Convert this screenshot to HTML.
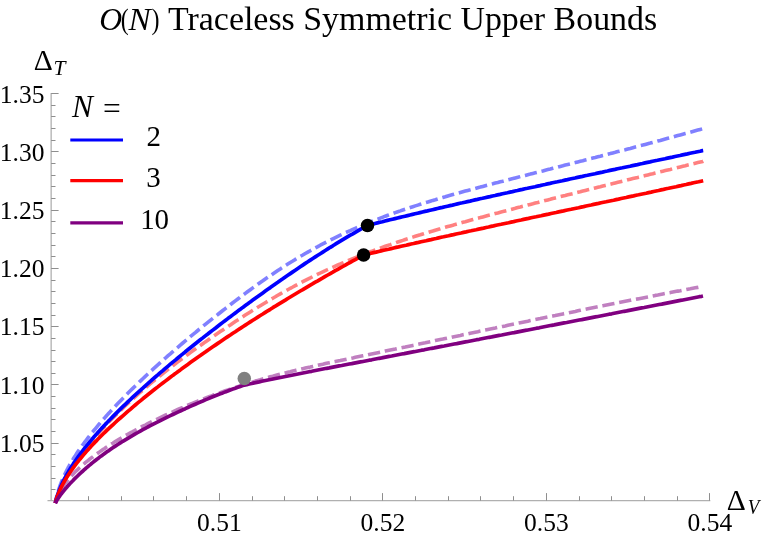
<!DOCTYPE html>
<html><head><meta charset="utf-8"><title>O(N) Traceless Symmetric Upper Bounds</title>
<style>
html,body{margin:0;padding:0;background:#fff;}
body{width:765px;height:540px;position:relative;overflow:hidden;font-family:"Liberation Serif",serif;}
svg text{font-family:"Liberation Serif",serif;fill:#000;}
</style></head><body>
<svg width="765" height="540" viewBox="0 0 765 540" style="position:absolute;left:0;top:0">
<rect width="765" height="540" fill="#fff"/>
<g stroke="#b0b0b0" stroke-width="1.3" fill="none">
<line x1="51.15" y1="93.0" x2="51.15" y2="501.0"/>
<line x1="47.5" y1="500.65" x2="710.3" y2="500.65"/>
</g>
<g stroke="#8e8e8e" stroke-width="1" fill="none">
<line x1="51.15" y1="489.5" x2="55.5" y2="489.5"/>
<line x1="51.15" y1="478.5" x2="55.5" y2="478.5"/>
<line x1="51.15" y1="466.5" x2="55.5" y2="466.5"/>
<line x1="51.15" y1="454.5" x2="55.5" y2="454.5"/>
<line x1="51.15" y1="443.5" x2="58.6" y2="443.5"/>
<line x1="51.15" y1="431.5" x2="55.5" y2="431.5"/>
<line x1="51.15" y1="419.5" x2="55.5" y2="419.5"/>
<line x1="51.15" y1="408.5" x2="55.5" y2="408.5"/>
<line x1="51.15" y1="396.5" x2="55.5" y2="396.5"/>
<line x1="51.15" y1="384.5" x2="58.6" y2="384.5"/>
<line x1="51.15" y1="373.5" x2="55.5" y2="373.5"/>
<line x1="51.15" y1="361.5" x2="55.5" y2="361.5"/>
<line x1="51.15" y1="350.5" x2="55.5" y2="350.5"/>
<line x1="51.15" y1="338.5" x2="55.5" y2="338.5"/>
<line x1="51.15" y1="326.5" x2="58.6" y2="326.5"/>
<line x1="51.15" y1="315.5" x2="55.5" y2="315.5"/>
<line x1="51.15" y1="303.5" x2="55.5" y2="303.5"/>
<line x1="51.15" y1="291.5" x2="55.5" y2="291.5"/>
<line x1="51.15" y1="280.5" x2="55.5" y2="280.5"/>
<line x1="51.15" y1="268.5" x2="58.6" y2="268.5"/>
<line x1="51.15" y1="256.5" x2="55.5" y2="256.5"/>
<line x1="51.15" y1="245.5" x2="55.5" y2="245.5"/>
<line x1="51.15" y1="233.5" x2="55.5" y2="233.5"/>
<line x1="51.15" y1="221.5" x2="55.5" y2="221.5"/>
<line x1="51.15" y1="210.5" x2="58.6" y2="210.5"/>
<line x1="51.15" y1="198.5" x2="55.5" y2="198.5"/>
<line x1="51.15" y1="186.5" x2="55.5" y2="186.5"/>
<line x1="51.15" y1="175.5" x2="55.5" y2="175.5"/>
<line x1="51.15" y1="163.5" x2="55.5" y2="163.5"/>
<line x1="51.15" y1="151.5" x2="58.6" y2="151.5"/>
<line x1="51.15" y1="140.5" x2="55.5" y2="140.5"/>
<line x1="51.15" y1="128.5" x2="55.5" y2="128.5"/>
<line x1="51.15" y1="116.5" x2="55.5" y2="116.5"/>
<line x1="51.15" y1="105.5" x2="55.5" y2="105.5"/>
<line x1="51.15" y1="93.5" x2="58.6" y2="93.5"/>
<line x1="88.5" y1="500.65" x2="88.5" y2="496.2"/>
<line x1="121.5" y1="500.65" x2="121.5" y2="496.2"/>
<line x1="153.5" y1="500.65" x2="153.5" y2="496.2"/>
<line x1="186.5" y1="500.65" x2="186.5" y2="496.2"/>
<line x1="219.5" y1="500.65" x2="219.5" y2="493.1"/>
<line x1="252.5" y1="500.65" x2="252.5" y2="496.2"/>
<line x1="284.5" y1="500.65" x2="284.5" y2="496.2"/>
<line x1="317.5" y1="500.65" x2="317.5" y2="496.2"/>
<line x1="350.5" y1="500.65" x2="350.5" y2="496.2"/>
<line x1="382.5" y1="500.65" x2="382.5" y2="493.1"/>
<line x1="415.5" y1="500.65" x2="415.5" y2="496.2"/>
<line x1="448.5" y1="500.65" x2="448.5" y2="496.2"/>
<line x1="480.5" y1="500.65" x2="480.5" y2="496.2"/>
<line x1="513.5" y1="500.65" x2="513.5" y2="496.2"/>
<line x1="546.5" y1="500.65" x2="546.5" y2="493.1"/>
<line x1="579.5" y1="500.65" x2="579.5" y2="496.2"/>
<line x1="611.5" y1="500.65" x2="611.5" y2="496.2"/>
<line x1="644.5" y1="500.65" x2="644.5" y2="496.2"/>
<line x1="677.5" y1="500.65" x2="677.5" y2="496.2"/>
<line x1="709.5" y1="500.65" x2="709.5" y2="493.1"/>
</g>
<path d="M55.3,503.1L55.8,500.5L56.3,498.2L56.8,496.1L57.3,494.2L57.8,492.5L58.3,490.8L58.8,489.2L59.3,487.7L59.8,486.3L60.3,484.9L60.8,483.6L61.3,482.3L61.8,481.1L62.3,479.9L62.8,478.7L63.3,477.6L63.8,476.5L64.3,475.4L64.8,474.3L65.3,473.3L65.8,472.3L66.3,471.3L66.8,470.3L67.3,469.3L67.8,468.4L68.3,467.4L68.8,466.5L69.3,465.6L69.8,464.7L70.3,463.9L71.3,462.1L72.3,460.5L73.3,458.8L74.3,457.2L75.3,455.7L76.3,454.1L77.3,452.6L78.3,451.1L79.3,449.7L80.3,448.2L81.3,446.8L82.3,445.4L83.3,444.1L84.3,442.7L85.3,441.4L86.3,440.1L87.3,438.7L88.3,437.5L89.3,436.2L90.3,434.9L91.3,433.7L92.3,432.4L93.3,431.2L94.3,430.0L95.3,428.8L96.3,427.6L97.3,426.4L98.3,425.2L99.3,424.0L100.3,422.8L101.3,421.7L102.3,420.5L103.3,419.4L104.3,418.3L105.3,417.1L106.3,416.0L107.3,414.9L108.3,413.8L109.3,412.7L110.3,411.6L112.8,408.9L115.3,406.2L117.8,403.6L120.3,401.0L122.8,398.4L125.3,395.9L127.8,393.3L130.3,390.8L132.8,388.4L135.3,385.9L137.8,383.5L140.3,381.1L142.8,378.7L145.3,376.4L147.8,374.0L150.3,371.7L152.8,369.4L155.3,367.1L157.8,364.9L160.3,362.6L162.8,360.4L165.3,358.2L167.8,355.9L170.3,353.8L172.8,351.6L175.3,349.4L177.8,347.3L180.3,345.1L182.8,343.0L185.3,340.9L187.8,338.8L190.3,336.7L192.8,334.6L195.3,332.6L197.8,330.5L200.3,328.5L202.8,326.4L205.3,324.4L207.8,322.4L210.3,320.4L212.8,318.4L215.3,316.4L217.8,314.5L220.3,312.5L222.8,310.5L225.3,308.6L227.8,306.7L230.3,304.7L232.8,302.8L235.3,300.9L237.8,299.0L240.3,297.1L242.8,295.3L245.3,293.4L247.8,291.5L250.3,289.7L252.8,287.9L255.3,286.1L257.8,284.3L260.3,282.5L262.8,280.8L265.3,279.0L267.8,277.3L270.3,275.6L272.8,273.9L275.3,272.2L277.8,270.5L280.3,268.9L282.8,267.3L285.3,265.7L287.8,264.1L290.3,262.5L292.8,261.0L295.3,259.4L297.8,257.9L300.3,256.4L302.8,255.0L305.3,253.5L307.8,252.1L310.3,250.7L312.8,249.3L315.3,247.9L317.8,246.6L320.3,245.2L322.8,243.9L325.3,242.6L327.8,241.3L330.3,240.1L332.8,238.8L335.3,237.6L337.8,236.4L340.3,235.2L342.8,234.0L345.3,232.8L347.8,231.7L350.3,230.6L352.8,229.4L355.3,228.3L357.8,227.3L360.3,226.2L362.8,225.1L365.3,224.1L367.8,223.1L370.3,222.0L372.8,221.0L375.3,220.0L377.8,219.1L380.3,218.1L382.8,217.2L385.3,216.2L387.8,215.3L390.3,214.4L392.8,213.5L395.3,212.6L397.8,211.7L400.3,210.9L402.8,210.0L405.3,209.2L407.8,208.3L410.3,207.5L412.8,206.7L415.3,205.9L417.8,205.1L420.3,204.3L422.8,203.5L425.3,202.7L427.8,202.0L430.3,201.2L432.8,200.4L435.3,199.7L437.8,198.9L440.3,198.2L442.8,197.5L445.3,196.8L447.8,196.0L450.3,195.3L452.8,194.6L455.3,193.9L457.8,193.2L460.3,192.5L462.8,191.8L465.3,191.1L467.8,190.4L470.3,189.8L472.8,189.1L475.3,188.4L477.8,187.7L480.3,187.1L482.8,186.4L485.3,185.7L487.8,185.1L490.3,184.4L492.8,183.8L495.3,183.1L497.8,182.5L500.3,181.8L502.8,181.2L505.3,180.5L507.8,179.9L510.3,179.2L512.8,178.6L515.3,177.9L517.8,177.3L520.3,176.6L522.8,176.0L525.3,175.4L527.8,174.7L530.3,174.1L532.8,173.4L535.3,172.8L537.8,172.2L540.3,171.5L542.8,170.9L545.3,170.2L547.8,169.6L550.3,169.0L552.8,168.3L555.3,167.7L557.8,167.1L560.3,166.4L562.8,165.8L565.3,165.1L567.8,164.5L570.3,163.9L572.8,163.2L575.3,162.6L577.8,161.9L580.3,161.3L582.8,160.7L585.3,160.0L587.8,159.4L590.3,158.7L592.8,158.1L595.3,157.5L597.8,156.8L600.3,156.2L602.8,155.5L605.3,154.9L607.8,154.2L610.3,153.6L612.8,152.9L615.3,152.3L617.8,151.6L620.3,151.0L622.8,150.3L625.3,149.7L627.8,149.0L630.3,148.4L632.8,147.7L635.3,147.0L637.8,146.4L640.3,145.7L642.8,145.1L645.3,144.4L647.8,143.7L650.3,143.1L652.8,142.4L655.3,141.7L657.8,141.0L660.3,140.4L662.8,139.7L665.3,139.0L667.8,138.3L670.3,137.7L672.8,137.0L675.3,136.3L677.8,135.6L680.3,134.9L682.8,134.2L685.3,133.5L687.8,132.9L690.3,132.2L692.8,131.5L695.3,130.8L697.8,130.1L700.3,129.4L702.8,128.7L703.0,128.6" fill="none" stroke="#8080ff" stroke-width="3.6" stroke-dasharray="12.3 4.8" stroke-dashoffset="4.66" stroke-linejoin="round"/>
<path d="M55.3,503.1L55.8,501.3L56.3,499.6L56.8,498.1L57.3,496.7L57.8,495.4L58.3,494.1L58.8,492.9L59.3,491.7L59.8,490.6L60.3,489.5L60.8,488.4L61.3,487.4L61.8,486.4L62.3,485.4L62.8,484.4L63.3,483.4L63.8,482.5L64.3,481.6L64.8,480.7L65.3,479.8L65.8,478.9L66.3,478.0L66.8,477.1L67.3,476.3L67.8,475.4L68.3,474.6L68.8,473.8L69.3,473.0L69.8,472.2L70.3,471.3L71.3,469.8L72.3,468.2L73.3,466.6L74.3,465.1L75.3,463.6L76.3,462.2L77.3,460.7L78.3,459.3L79.3,457.8L80.3,456.4L81.3,455.0L82.3,453.7L83.3,452.3L84.3,451.0L85.3,449.7L86.3,448.4L87.3,447.1L88.3,445.8L89.3,444.5L90.3,443.3L91.3,442.0L92.3,440.8L93.3,439.6L94.3,438.4L95.3,437.2L96.3,436.0L97.3,434.8L98.3,433.7L99.3,432.5L100.3,431.4L101.3,430.3L102.3,429.2L103.3,428.1L104.3,427.0L105.3,425.9L106.3,424.8L107.3,423.7L108.3,422.7L109.3,421.6L110.3,420.6L112.8,418.0L115.3,415.5L117.8,413.0L120.3,410.6L122.8,408.2L125.3,405.8L127.8,403.4L130.3,401.1L132.8,398.9L135.3,396.6L137.8,394.4L140.3,392.2L142.8,390.1L145.3,387.9L147.8,385.8L150.3,383.7L152.8,381.6L155.3,379.6L157.8,377.6L160.3,375.5L162.8,373.5L165.3,371.6L167.8,369.6L170.3,367.7L172.8,365.7L175.3,363.8L177.8,361.9L180.3,360.0L182.8,358.2L185.3,356.3L187.8,354.5L190.3,352.6L192.8,350.8L195.3,349.0L197.8,347.2L200.3,345.5L202.8,343.7L205.3,341.9L207.8,340.2L210.3,338.4L212.8,336.7L215.3,335.0L217.8,333.3L220.3,331.6L222.8,329.9L225.3,328.2L227.8,326.5L230.3,324.9L232.8,323.2L235.3,321.5L237.8,319.9L240.3,318.3L242.8,316.7L245.3,315.1L247.8,313.5L250.3,311.9L252.8,310.3L255.3,308.8L257.8,307.2L260.3,305.7L262.8,304.2L265.3,302.7L267.8,301.2L270.3,299.7L272.8,298.2L275.3,296.8L277.8,295.3L280.3,293.9L282.8,292.5L285.3,291.1L287.8,289.7L290.3,288.3L292.8,287.0L295.3,285.6L297.8,284.3L300.3,283.0L302.8,281.7L305.3,280.4L307.8,279.1L310.3,277.9L312.8,276.6L315.3,275.4L317.8,274.2L320.3,273.0L322.8,271.8L325.3,270.7L327.8,269.5L330.3,268.4L332.8,267.3L335.3,266.1L337.8,265.0L340.3,264.0L342.8,262.9L345.3,261.8L347.8,260.8L350.3,259.7L352.8,258.7L355.3,257.7L357.8,256.7L360.3,255.7L362.8,254.7L365.3,253.7L367.8,252.8L370.3,251.8L372.8,250.9L375.3,249.9L377.8,249.0L380.3,248.1L382.8,247.2L385.3,246.3L387.8,245.4L390.3,244.6L392.8,243.7L395.3,242.9L397.8,242.0L400.3,241.2L402.8,240.4L405.3,239.5L407.8,238.7L410.3,237.9L412.8,237.1L415.3,236.3L417.8,235.5L420.3,234.8L422.8,234.0L425.3,233.2L427.8,232.5L430.3,231.7L432.8,231.0L435.3,230.2L437.8,229.5L440.3,228.8L442.8,228.0L445.3,227.3L447.8,226.6L450.3,225.9L452.8,225.2L455.3,224.4L457.8,223.7L460.3,223.0L462.8,222.3L465.3,221.7L467.8,221.0L470.3,220.3L472.8,219.6L475.3,218.9L477.8,218.2L480.3,217.6L482.8,216.9L485.3,216.2L487.8,215.5L490.3,214.9L492.8,214.2L495.3,213.5L497.8,212.9L500.3,212.2L502.8,211.6L505.3,210.9L507.8,210.3L510.3,209.6L512.8,208.9L515.3,208.3L517.8,207.6L520.3,207.0L522.8,206.3L525.3,205.7L527.8,205.0L530.3,204.4L532.8,203.8L535.3,203.1L537.8,202.5L540.3,201.8L542.8,201.2L545.3,200.5L547.8,199.9L550.3,199.3L552.8,198.6L555.3,198.0L557.8,197.4L560.3,196.7L562.8,196.1L565.3,195.5L567.8,194.8L570.3,194.2L572.8,193.6L575.3,192.9L577.8,192.3L580.3,191.7L582.8,191.0L585.3,190.4L587.8,189.8L590.3,189.2L592.8,188.5L595.3,187.9L597.8,187.3L600.3,186.7L602.8,186.0L605.3,185.4L607.8,184.8L610.3,184.2L612.8,183.6L615.3,182.9L617.8,182.3L620.3,181.7L622.8,181.1L625.3,180.5L627.8,179.8L630.3,179.2L632.8,178.6L635.3,178.0L637.8,177.4L640.3,176.7L642.8,176.1L645.3,175.5L647.8,174.9L650.3,174.3L652.8,173.7L655.3,173.0L657.8,172.4L660.3,171.8L662.8,171.2L665.3,170.6L667.8,170.0L670.3,169.4L672.8,168.7L675.3,168.1L677.8,167.5L680.3,166.9L682.8,166.3L685.3,165.7L687.8,165.0L690.3,164.4L692.8,163.8L695.3,163.2L697.8,162.6L700.3,162.0L702.8,161.4L703.2,161.2" fill="none" stroke="#ff8080" stroke-width="3.6" stroke-dasharray="12.3 4.8" stroke-dashoffset="5.17" stroke-linejoin="round"/>
<path d="M55.3,503.1L55.8,501.4L56.3,499.9L56.8,498.5L57.3,497.2L57.8,496.1L58.3,495.0L58.8,493.9L59.3,492.9L59.8,492.0L60.3,491.0L60.8,490.2L61.3,489.3L61.8,488.5L62.3,487.7L62.8,486.9L63.3,486.2L63.8,485.4L64.3,484.7L64.8,484.0L65.3,483.3L65.8,482.7L66.3,482.0L66.8,481.4L67.3,480.7L67.8,480.1L68.3,479.5L68.8,478.9L69.3,478.3L69.8,477.7L70.3,477.2L71.3,476.0L72.3,474.9L73.3,473.9L74.3,472.8L75.3,471.8L76.3,470.8L77.3,469.9L78.3,468.9L79.3,468.0L80.3,467.1L81.3,466.2L82.3,465.3L83.3,464.4L84.3,463.6L85.3,462.7L86.3,461.9L87.3,461.1L88.3,460.3L89.3,459.5L90.3,458.7L91.3,457.9L92.3,457.2L93.3,456.4L94.3,455.7L95.3,454.9L96.3,454.2L97.3,453.5L98.3,452.8L99.3,452.1L100.3,451.4L101.3,450.7L102.3,450.0L103.3,449.3L104.3,448.7L105.3,448.0L106.3,447.3L107.3,446.7L108.3,446.0L109.3,445.4L110.3,444.7L112.8,443.2L115.3,441.6L117.8,440.1L120.3,438.6L122.8,437.2L125.3,435.7L127.8,434.3L130.3,432.9L132.8,431.6L135.3,430.2L137.8,428.9L140.3,427.5L142.8,426.2L145.3,425.0L147.8,423.7L150.3,422.4L152.8,421.2L155.3,420.0L157.8,418.8L160.3,417.6L162.8,416.4L165.3,415.2L167.8,414.0L170.3,412.9L172.8,411.8L175.3,410.6L177.8,409.5L180.3,408.4L182.8,407.4L185.3,406.3L187.8,405.2L190.3,404.2L192.8,403.2L195.3,402.1L197.8,401.1L200.3,400.1L202.8,399.2L205.3,398.2L207.8,397.2L210.3,396.3L212.8,395.3L215.3,394.4L217.8,393.5L220.3,392.6L222.8,391.7L225.3,390.8L227.8,390.0L230.3,389.1L232.8,388.3L235.3,387.4L237.8,386.6L240.3,385.8L242.8,385.0L245.3,384.2L247.8,383.4L250.3,382.6L252.8,381.9L255.3,381.1L257.8,380.4L260.3,379.7L262.8,378.9L265.3,378.2L267.8,377.5L270.3,376.8L272.8,376.2L275.3,375.5L277.8,374.8L280.3,374.2L282.8,373.5L285.3,372.9L287.8,372.3L290.3,371.7L292.8,371.0L295.3,370.4L297.8,369.8L300.3,369.3L302.8,368.7L305.3,368.1L307.8,367.5L310.3,367.0L312.8,366.4L315.3,365.8L317.8,365.3L320.3,364.7L322.8,364.2L325.3,363.6L327.8,363.1L330.3,362.6L332.8,362.0L335.3,361.5L337.8,361.0L340.3,360.5L342.8,359.9L345.3,359.4L347.8,358.9L350.3,358.4L352.8,357.9L355.3,357.3L357.8,356.8L360.3,356.3L362.8,355.8L365.3,355.3L367.8,354.8L370.3,354.2L372.8,353.7L375.3,353.2L377.8,352.7L380.3,352.2L382.8,351.7L385.3,351.1L387.8,350.6L390.3,350.1L392.8,349.6L395.3,349.1L397.8,348.5L400.3,348.0L402.8,347.5L405.3,347.0L407.8,346.4L410.3,345.9L412.8,345.4L415.3,344.9L417.8,344.3L420.3,343.8L422.8,343.3L425.3,342.8L427.8,342.2L430.3,341.7L432.8,341.2L435.3,340.6L437.8,340.1L440.3,339.6L442.8,339.1L445.3,338.5L447.8,338.0L450.3,337.5L452.8,336.9L455.3,336.4L457.8,335.9L460.3,335.4L462.8,334.8L465.3,334.3L467.8,333.8L470.3,333.2L472.8,332.7L475.3,332.2L477.8,331.7L480.3,331.1L482.8,330.6L485.3,330.1L487.8,329.5L490.3,329.0L492.8,328.5L495.3,328.0L497.8,327.4L500.3,326.9L502.8,326.4L505.3,325.9L507.8,325.3L510.3,324.8L512.8,324.3L515.3,323.8L517.8,323.2L520.3,322.7L522.8,322.2L525.3,321.7L527.8,321.2L530.3,320.6L532.8,320.1L535.3,319.6L537.8,319.1L540.3,318.6L542.8,318.0L545.3,317.5L547.8,317.0L550.3,316.5L552.8,316.0L555.3,315.5L557.8,314.9L560.3,314.4L562.8,313.9L565.3,313.4L567.8,312.9L570.3,312.4L572.8,311.9L575.3,311.4L577.8,310.8L580.3,310.3L582.8,309.8L585.3,309.3L587.8,308.8L590.3,308.3L592.8,307.8L595.3,307.3L597.8,306.8L600.3,306.3L602.8,305.8L605.3,305.3L607.8,304.8L610.3,304.3L612.8,303.8L615.3,303.3L617.8,302.8L620.3,302.3L622.8,301.8L625.3,301.3L627.8,300.8L630.3,300.3L632.8,299.8L635.3,299.3L637.8,298.9L640.3,298.4L642.8,297.9L645.3,297.4L647.8,296.9L650.3,296.4L652.8,295.9L655.3,295.4L657.8,295.0L660.3,294.5L662.8,294.0L665.3,293.5L667.8,293.0L670.3,292.6L672.8,292.1L675.3,291.6L677.8,291.1L680.3,290.7L682.8,290.2L685.3,289.7L687.8,289.2L690.3,288.8L692.8,288.3L695.3,287.8L697.8,287.4L700.3,286.9L702.8,286.4L703.0,286.4" fill="none" stroke="#c080c0" stroke-width="3.6" stroke-dasharray="12.3 4.8" stroke-dashoffset="2.53" stroke-linejoin="round"/>
<path d="M55.3,503.1L55.8,501.0L56.3,499.0L56.8,497.3L57.3,495.7L57.8,494.2L58.3,492.8L58.8,491.4L59.3,490.1L59.8,488.9L60.3,487.7L60.8,486.5L61.3,485.4L61.8,484.3L62.3,483.2L62.8,482.2L63.3,481.2L63.8,480.2L64.3,479.2L64.8,478.2L65.3,477.3L65.8,476.4L66.3,475.5L66.8,474.6L67.3,473.7L67.8,472.8L68.3,472.0L68.8,471.1L69.3,470.3L69.8,469.4L70.3,468.6L71.3,467.0L72.3,465.5L73.3,463.9L74.3,462.4L75.3,461.0L76.3,459.5L77.3,458.1L78.3,456.7L79.3,455.3L80.3,453.9L81.3,452.6L82.3,451.3L83.3,450.0L84.3,448.7L85.3,447.4L86.3,446.2L87.3,444.9L88.3,443.7L89.3,442.5L90.3,441.3L91.3,440.1L92.3,438.9L93.3,437.7L94.3,436.6L95.3,435.4L96.3,434.3L97.3,433.2L98.3,432.0L99.3,430.9L100.3,429.8L101.3,428.7L102.3,427.6L103.3,426.6L104.3,425.5L105.3,424.4L106.3,423.4L107.3,422.3L108.3,421.3L109.3,420.2L110.3,419.2L112.8,416.6L115.3,414.1L117.8,411.6L120.3,409.1L122.8,406.7L125.3,404.3L127.8,401.9L130.3,399.6L132.8,397.2L135.3,394.9L137.8,392.6L140.3,390.3L142.8,388.1L145.3,385.8L147.8,383.6L150.3,381.4L152.8,379.2L155.3,377.0L157.8,374.9L160.3,372.7L162.8,370.6L165.3,368.4L167.8,366.3L170.3,364.2L172.8,362.1L175.3,360.1L177.8,358.0L180.3,355.9L182.8,353.9L185.3,351.8L187.8,349.8L190.3,347.8L192.8,345.8L195.3,343.8L197.8,341.8L200.3,339.8L202.8,337.9L205.3,335.9L207.8,334.0L210.3,332.0L212.8,330.1L215.3,328.2L217.8,326.2L220.3,324.3L222.8,322.4L225.3,320.5L227.8,318.6L230.3,316.8L232.8,314.9L235.3,313.0L237.8,311.1L240.3,309.3L242.8,307.4L245.3,305.6L247.8,303.8L250.3,301.9L252.8,300.1L255.3,298.3L257.8,296.5L260.3,294.7L262.8,292.9L265.3,291.1L267.8,289.3L270.3,287.6L272.8,285.8L275.3,284.0L277.8,282.3L280.3,280.5L282.8,278.8L285.3,277.0L287.8,275.3L290.3,273.6L292.8,271.9L295.3,270.2L297.8,268.5L300.3,266.8L302.8,265.1L305.3,263.4L307.8,261.8L310.3,260.1L312.8,258.5L315.3,256.9L317.8,255.3L320.3,253.7L322.8,252.1L325.3,250.5L327.8,248.9L330.3,247.3L332.8,245.8L335.3,244.2L337.8,242.7L340.3,241.2L342.8,239.7L345.3,238.2L347.8,236.7L350.3,235.2L352.8,233.8L355.3,232.3L357.8,230.9L360.3,229.4L362.8,228.0L365.3,226.6L367.5,225.4L370.0,224.8L372.5,224.1L375.0,223.5L377.5,222.9L380.0,222.3L382.5,221.7L385.0,221.0L387.5,220.4L390.0,219.8L392.5,219.2L395.0,218.6L397.5,218.0L400.0,217.4L402.5,216.8L405.0,216.2L407.5,215.6L410.0,215.0L412.5,214.4L415.0,213.8L417.5,213.2L420.0,212.6L422.5,212.0L425.0,211.4L427.5,210.9L430.0,210.3L432.5,209.7L435.0,209.1L437.5,208.5L440.0,207.9L442.5,207.4L445.0,206.8L447.5,206.2L450.0,205.6L452.5,205.1L455.0,204.5L457.5,203.9L460.0,203.3L462.5,202.8L465.0,202.2L467.5,201.6L470.0,201.1L472.5,200.5L475.0,199.9L477.5,199.4L480.0,198.8L482.5,198.3L485.0,197.7L487.5,197.1L490.0,196.6L492.5,196.0L495.0,195.5L497.5,194.9L500.0,194.4L502.5,193.8L505.0,193.2L507.5,192.7L510.0,192.1L512.5,191.6L515.0,191.0L517.5,190.5L520.0,189.9L522.5,189.4L525.0,188.8L527.5,188.3L530.0,187.7L532.5,187.2L535.0,186.7L537.5,186.1L540.0,185.6L542.5,185.0L545.0,184.5L547.5,183.9L550.0,183.4L552.5,182.8L555.0,182.3L557.5,181.8L560.0,181.2L562.5,180.7L565.0,180.1L567.5,179.6L570.0,179.0L572.5,178.5L575.0,178.0L577.5,177.4L580.0,176.9L582.5,176.4L585.0,175.8L587.5,175.3L590.0,174.7L592.5,174.2L595.0,173.7L597.5,173.1L600.0,172.6L602.5,172.1L605.0,171.5L607.5,171.0L610.0,170.4L612.5,169.9L615.0,169.4L617.5,168.8L620.0,168.3L622.5,167.8L625.0,167.2L627.5,166.7L630.0,166.2L632.5,165.6L635.0,165.1L637.5,164.6L640.0,164.0L642.5,163.5L645.0,162.9L647.5,162.4L650.0,161.9L652.5,161.3L655.0,160.8L657.5,160.3L660.0,159.7L662.5,159.2L665.0,158.7L667.5,158.1L670.0,157.6L672.5,157.1L675.0,156.5L677.5,156.0L680.0,155.5L682.5,154.9L685.0,154.4L687.5,153.9L690.0,153.3L692.5,152.8L695.0,152.3L697.5,151.7L700.0,151.2L702.5,150.6L703.2,150.5" fill="none" stroke="#0000ff" stroke-width="3.7" stroke-linejoin="round"/>
<path d="M55.3,503.1L55.8,501.2L56.3,499.5L56.8,497.9L57.3,496.4L57.8,495.1L58.3,493.8L58.8,492.6L59.3,491.4L59.8,490.3L60.3,489.2L60.8,488.1L61.3,487.1L61.8,486.1L62.3,485.1L62.8,484.2L63.3,483.3L63.8,482.4L64.3,481.5L64.8,480.6L65.3,479.8L65.8,478.9L66.3,478.1L66.8,477.3L67.3,476.5L67.8,475.7L68.3,475.0L68.8,474.2L69.3,473.4L69.8,472.7L70.3,472.0L71.3,470.5L72.3,469.1L73.3,467.7L74.3,466.4L75.3,465.0L76.3,463.7L77.3,462.4L78.3,461.2L79.3,459.9L80.3,458.7L81.3,457.5L82.3,456.3L83.3,455.1L84.3,453.9L85.3,452.8L86.3,451.6L87.3,450.5L88.3,449.4L89.3,448.3L90.3,447.2L91.3,446.1L92.3,445.0L93.3,444.0L94.3,442.9L95.3,441.9L96.3,440.9L97.3,439.8L98.3,438.8L99.3,437.8L100.3,436.8L101.3,435.8L102.3,434.8L103.3,433.8L104.3,432.8L105.3,431.9L106.3,430.9L107.3,429.9L108.3,429.0L109.3,428.0L110.3,427.1L112.8,424.8L115.3,422.5L117.8,420.2L120.3,418.0L122.8,415.8L125.3,413.6L127.8,411.4L130.3,409.3L132.8,407.1L135.3,405.0L137.8,402.9L140.3,400.9L142.8,398.8L145.3,396.8L147.8,394.8L150.3,392.8L152.8,390.8L155.3,388.8L157.8,386.9L160.3,384.9L162.8,383.0L165.3,381.1L167.8,379.2L170.3,377.3L172.8,375.4L175.3,373.6L177.8,371.7L180.3,369.9L182.8,368.0L185.3,366.2L187.8,364.4L190.3,362.6L192.8,360.8L195.3,359.0L197.8,357.2L200.3,355.5L202.8,353.7L205.3,352.0L207.8,350.2L210.3,348.5L212.8,346.8L215.3,345.1L217.8,343.4L220.3,341.7L222.8,340.0L225.3,338.3L227.8,336.6L230.3,335.0L232.8,333.3L235.3,331.7L237.8,330.0L240.3,328.4L242.8,326.7L245.3,325.1L247.8,323.5L250.3,321.9L252.8,320.3L255.3,318.7L257.8,317.1L260.3,315.5L262.8,314.0L265.3,312.4L267.8,310.8L270.3,309.3L272.8,307.7L275.3,306.2L277.8,304.6L280.3,303.1L282.8,301.6L285.3,300.1L287.8,298.5L290.3,297.0L292.8,295.5L295.3,294.0L297.8,292.5L300.3,291.0L302.8,289.6L305.3,288.1L307.8,286.6L310.3,285.1L312.8,283.7L315.3,282.2L317.8,280.8L320.3,279.3L322.8,277.9L325.3,276.4L327.8,275.0L330.3,273.6L332.8,272.2L335.3,270.7L337.8,269.3L340.3,267.9L342.8,266.5L345.3,265.1L347.8,263.7L350.3,262.3L352.8,260.9L355.3,259.6L357.8,258.2L360.3,256.8L362.8,255.4L363.6,255.0L366.1,254.4L368.6,253.8L371.1,253.2L373.6,252.6L376.1,252.1L378.6,251.5L381.1,250.9L383.6,250.3L386.1,249.7L388.6,249.2L391.1,248.6L393.6,248.0L396.1,247.4L398.6,246.9L401.1,246.3L403.6,245.7L406.1,245.2L408.6,244.6L411.1,244.0L413.6,243.5L416.1,242.9L418.6,242.4L421.1,241.8L423.6,241.2L426.1,240.7L428.6,240.1L431.1,239.6L433.6,239.0L436.1,238.5L438.6,237.9L441.1,237.3L443.6,236.8L446.1,236.2L448.6,235.7L451.1,235.1L453.6,234.6L456.1,234.0L458.6,233.5L461.1,233.0L463.6,232.4L466.1,231.9L468.6,231.3L471.1,230.8L473.6,230.2L476.1,229.7L478.6,229.1L481.1,228.6L483.6,228.1L486.1,227.5L488.6,227.0L491.1,226.4L493.6,225.9L496.1,225.3L498.6,224.8L501.1,224.3L503.6,223.7L506.1,223.2L508.6,222.7L511.1,222.1L513.6,221.6L516.1,221.0L518.6,220.5L521.1,220.0L523.6,219.4L526.1,218.9L528.6,218.4L531.1,217.8L533.6,217.3L536.1,216.8L538.6,216.2L541.1,215.7L543.6,215.1L546.1,214.6L548.6,214.1L551.1,213.5L553.6,213.0L556.1,212.5L558.6,211.9L561.1,211.4L563.6,210.9L566.1,210.3L568.6,209.8L571.1,209.3L573.6,208.7L576.1,208.2L578.6,207.7L581.1,207.1L583.6,206.6L586.1,206.0L588.6,205.5L591.1,205.0L593.6,204.4L596.1,203.9L598.6,203.4L601.1,202.8L603.6,202.3L606.1,201.8L608.6,201.2L611.1,200.7L613.6,200.2L616.1,199.6L618.6,199.1L621.1,198.5L623.6,198.0L626.1,197.5L628.6,196.9L631.1,196.4L633.6,195.9L636.1,195.3L638.6,194.8L641.1,194.2L643.6,193.7L646.1,193.2L648.6,192.6L651.1,192.1L653.6,191.5L656.1,191.0L658.6,190.5L661.1,189.9L663.6,189.4L666.1,188.8L668.6,188.3L671.1,187.7L673.6,187.2L676.1,186.7L678.6,186.1L681.1,185.6L683.6,185.0L686.1,184.5L688.6,183.9L691.1,183.4L693.6,182.8L696.1,182.3L698.6,181.8L701.1,181.2L703.2,180.7" fill="none" stroke="#ff0000" stroke-width="3.7" stroke-linejoin="round"/>
<path d="M55.3,503.1L55.8,502.1L56.3,501.3L56.8,500.4L57.3,499.6L57.8,498.8L58.3,498.1L58.8,497.3L59.3,496.6L59.8,495.9L60.3,495.2L60.8,494.5L61.3,493.9L61.8,493.2L62.3,492.6L62.8,492.0L63.3,491.3L63.8,490.7L64.3,490.1L64.8,489.5L65.3,488.9L65.8,488.3L66.3,487.7L66.8,487.2L67.3,486.6L67.8,486.0L68.3,485.5L68.8,484.9L69.3,484.4L69.8,483.8L70.3,483.3L71.3,482.2L72.3,481.2L73.3,480.2L74.3,479.1L75.3,478.1L76.3,477.2L77.3,476.2L78.3,475.2L79.3,474.3L80.3,473.3L81.3,472.4L82.3,471.5L83.3,470.6L84.3,469.7L85.3,468.8L86.3,467.9L87.3,467.1L88.3,466.2L89.3,465.4L90.3,464.6L91.3,463.7L92.3,462.9L93.3,462.1L94.3,461.3L95.3,460.5L96.3,459.7L97.3,458.9L98.3,458.2L99.3,457.4L100.3,456.6L101.3,455.9L102.3,455.2L103.3,454.4L104.3,453.7L105.3,453.0L106.3,452.3L107.3,451.6L108.3,450.9L109.3,450.2L110.3,449.5L112.8,447.8L115.3,446.1L117.8,444.5L120.3,442.9L122.8,441.3L125.3,439.8L127.8,438.3L130.3,436.8L132.8,435.4L135.3,433.9L137.8,432.5L140.3,431.1L142.8,429.7L145.3,428.4L147.8,427.0L150.3,425.7L152.8,424.4L155.3,423.1L157.8,421.9L160.3,420.6L162.8,419.3L165.3,418.1L167.8,416.9L170.3,415.7L172.8,414.5L175.3,413.3L177.8,412.1L180.3,411.0L182.8,409.8L185.3,408.7L187.8,407.5L190.3,406.4L192.8,405.3L195.3,404.2L197.8,403.1L200.3,402.0L202.8,401.0L205.3,399.9L207.8,398.9L210.3,397.8L212.8,396.8L215.3,395.8L217.8,394.8L220.3,393.8L222.8,392.9L225.3,391.9L227.8,391.0L230.3,390.0L232.8,389.1L235.3,388.2L237.8,387.3L240.3,386.4L242.8,385.6L244.2,385.1L246.7,384.6L249.2,384.0L251.7,383.5L254.2,382.9L256.7,382.4L259.2,381.9L261.7,381.3L264.2,380.8L266.7,380.3L269.2,379.8L271.7,379.3L274.2,378.7L276.7,378.2L279.2,377.7L281.7,377.2L284.2,376.7L286.7,376.2L289.2,375.7L291.7,375.2L294.2,374.7L296.7,374.2L299.2,373.7L301.7,373.2L304.2,372.7L306.7,372.2L309.2,371.7L311.7,371.3L314.2,370.8L316.7,370.3L319.2,369.8L321.7,369.3L324.2,368.8L326.7,368.3L329.2,367.9L331.7,367.4L334.2,366.9L336.7,366.4L339.2,365.9L341.7,365.5L344.2,365.0L346.7,364.5L349.2,364.0L351.7,363.6L354.2,363.1L356.7,362.6L359.2,362.1L361.7,361.7L364.2,361.2L366.7,360.7L369.2,360.2L371.7,359.8L374.2,359.3L376.7,358.8L379.2,358.3L381.7,357.9L384.2,357.4L386.7,356.9L389.2,356.4L391.7,356.0L394.2,355.5L396.7,355.0L399.2,354.5L401.7,354.0L404.2,353.6L406.7,353.1L409.2,352.6L411.7,352.1L414.2,351.7L416.7,351.2L419.2,350.7L421.7,350.2L424.2,349.8L426.7,349.3L429.2,348.8L431.7,348.3L434.2,347.9L436.7,347.4L439.2,346.9L441.7,346.4L444.2,346.0L446.7,345.5L449.2,345.0L451.7,344.5L454.2,344.0L456.7,343.6L459.2,343.1L461.7,342.6L464.2,342.1L466.7,341.7L469.2,341.2L471.7,340.7L474.2,340.2L476.7,339.7L479.2,339.3L481.7,338.8L484.2,338.3L486.7,337.8L489.2,337.3L491.7,336.9L494.2,336.4L496.7,335.9L499.2,335.4L501.7,335.0L504.2,334.5L506.7,334.0L509.2,333.5L511.7,333.0L514.2,332.6L516.7,332.1L519.2,331.6L521.7,331.1L524.2,330.6L526.7,330.2L529.2,329.7L531.7,329.2L534.2,328.7L536.7,328.2L539.2,327.8L541.7,327.3L544.2,326.8L546.7,326.3L549.2,325.8L551.7,325.3L554.2,324.9L556.7,324.4L559.2,323.9L561.7,323.4L564.2,322.9L566.7,322.5L569.2,322.0L571.7,321.5L574.2,321.0L576.7,320.5L579.2,320.0L581.7,319.6L584.2,319.1L586.7,318.6L589.2,318.1L591.7,317.6L594.2,317.1L596.7,316.7L599.2,316.2L601.7,315.7L604.2,315.2L606.7,314.7L609.2,314.2L611.7,313.8L614.2,313.3L616.7,312.8L619.2,312.3L621.7,311.8L624.2,311.3L626.7,310.9L629.2,310.4L631.7,309.9L634.2,309.4L636.7,308.9L639.2,308.4L641.7,307.9L644.2,307.5L646.7,307.0L649.2,306.5L651.7,306.0L654.2,305.5L656.7,305.0L659.2,304.5L661.7,304.1L664.2,303.6L666.7,303.1L669.2,302.6L671.7,302.1L674.2,301.6L676.7,301.1L679.2,300.6L681.7,300.2L684.2,299.7L686.7,299.2L689.2,298.7L691.7,298.2L694.2,297.7L696.7,297.2L699.2,296.7L701.7,296.3L703.0,296.0" fill="none" stroke="#800080" stroke-width="3.7" stroke-linejoin="round"/>
<circle cx="367.5" cy="225.4" r="6.75" fill="#000"/>
<circle cx="363.6" cy="255" r="6.75" fill="#000"/>
<circle cx="244.3" cy="378.4" r="6.75" fill="#808080"/>
<line x1="70.3" x2="123" y1="140" y2="140" stroke="#0000ff" stroke-width="3.2"/>
<line x1="70.3" x2="123" y1="180.6" y2="180.6" stroke="#ff0000" stroke-width="3.2"/>
<line x1="70.3" x2="123" y1="222.8" y2="222.8" stroke="#800080" stroke-width="3.2"/>
<g style="filter:opacity(1)">
<text x="99.3" y="29.8" text-anchor="start" style="font-size:31.7px;font-style:italic;">O</text>
<text transform="translate(120.8,28.7) scale(0.8,1)" text-anchor="start" style="font-size:30px;">(</text>
<text transform="translate(128.6,29.8) scale(1.05,1)" text-anchor="start" style="font-size:31.7px;font-style:italic;">N</text>
<text transform="translate(151.4,28.7) scale(0.8,1)" text-anchor="start" style="font-size:30px;">)</text>
<text x="168.0" y="29.9" text-anchor="start" style="font-size:33.9px;">Traceless Symmetric Upper Bounds</text>
<text x="44.4" y="102.7" text-anchor="end" style="font-size:25.5px;">1.35</text>
<text x="44.4" y="160.9" text-anchor="end" style="font-size:25.5px;">1.30</text>
<text x="44.4" y="219.1" text-anchor="end" style="font-size:25.5px;">1.25</text>
<text x="44.4" y="277.2" text-anchor="end" style="font-size:25.5px;">1.20</text>
<text x="44.4" y="335.4" text-anchor="end" style="font-size:25.5px;">1.15</text>
<text x="44.4" y="393.6" text-anchor="end" style="font-size:25.5px;">1.10</text>
<text x="44.4" y="451.8" text-anchor="end" style="font-size:25.5px;">1.05</text>
<text x="197.0" y="530.5" text-anchor="start" style="font-size:25.5px;">0.51</text>
<text x="360.5" y="530.5" text-anchor="start" style="font-size:25.5px;">0.52</text>
<text x="524.0" y="530.5" text-anchor="start" style="font-size:25.5px;">0.53</text>
<text x="687.5" y="530.5" text-anchor="start" style="font-size:25.5px;">0.54</text>
<text transform="translate(72.1,116.6) scale(1.03,1)" text-anchor="start" style="font-size:30.5px;font-style:italic;">N</text>
<text x="103.0" y="119.4" text-anchor="start" style="font-size:31.5px;">=</text>
<text transform="translate(153.75,145.5) scale(0.95,1)" text-anchor="middle" style="font-size:30.5px;">2</text>
<text transform="translate(153.55,186.7) scale(0.95,1)" text-anchor="middle" style="font-size:30.5px;">3</text>
<text transform="translate(154.6,228.6) scale(0.95,1)" text-anchor="middle" style="font-size:30.5px;">10</text>
<text x="33.7" y="69.7" text-anchor="start" style="font-size:29.6px;">Δ</text>
<text x="53.5" y="74.6" text-anchor="start" style="font-size:21.5px;font-style:italic;">T</text>
<text x="726.8" y="509.9" text-anchor="start" style="font-size:29.6px;">Δ</text>
<text transform="translate(747.8,514.0) scale(0.88,1)" text-anchor="start" style="font-size:21.5px;font-style:italic;">V</text>
</g>
</svg>
</body></html>
